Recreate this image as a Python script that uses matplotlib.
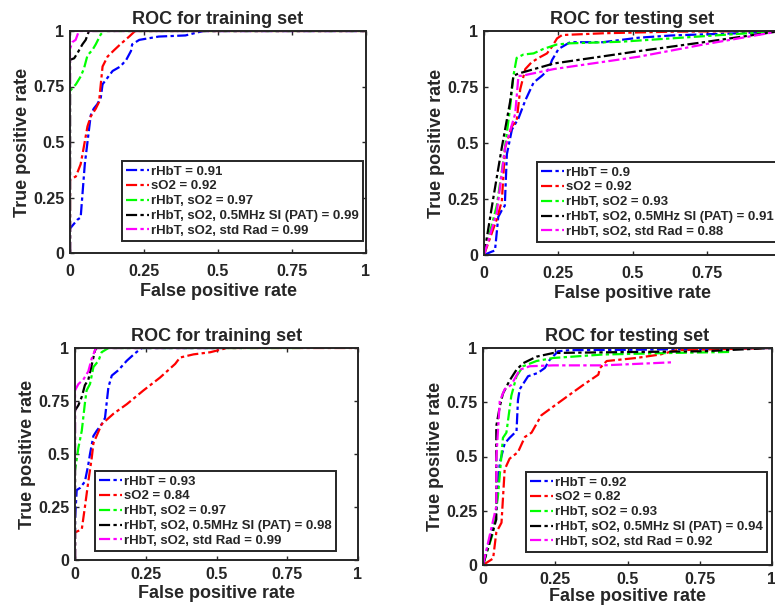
import matplotlib
matplotlib.use("Agg")
import matplotlib.pyplot as plt

plt.rcParams['font.family'] = ['Liberation Sans', 'DejaVu Sans']
plt.rcParams['font.weight'] = 'bold'

W, H = 775, 611
labels_ = ["rHbT", "sO2", "rHbT, sO2", "rHbT, sO2, 0.5MHz SI (PAT)", "rHbT, sO2, std Rad"]
colors = ["#0000ff", "#ff0000", "#00ff00", "#000000", "#ff00ff"]

titles = ["ROC for training set", "ROC for testing set", "ROC for training set", "ROC for testing set"]
auc = [[0.91, 0.92, 0.97, 0.99, 0.99],
       [0.9, 0.92, 0.93, 0.91, 0.88],
       [0.93, 0.84, 0.97, 0.98, 0.99],
       [0.92, 0.82, 0.93, 0.94, 0.92]]
ticks = [0, 0.25, 0.5, 0.75, 1]
tick_labels = ["0", "0.25", "0.5", "0.75", "1"]

# Panel 1: training (top)
p1_blue_x = [0, 0, 0.025, 0.036, 0.05, 0.07, 0.08, 0.092, 0.104, 0.11, 0.127, 0.144, 0.17, 0.19, 0.206, 0.21, 0.234, 0.30, 0.39, 0.45, 1.0]
p1_blue_y = [0, 0.11, 0.15, 0.16, 0.40, 0.62, 0.65, 0.67, 0.70, 0.76, 0.79, 0.82, 0.84, 0.87, 0.91, 0.94, 0.96, 0.975, 0.98, 1.0, 1.0]
p1_red_x = [0, 0, 0.02, 0.036, 0.047, 0.059, 0.07, 0.087, 0.098, 0.11, 0.127, 0.15, 0.17, 0.2, 0.22, 1.0]
p1_red_y = [0, 0.33, 0.345, 0.40, 0.48, 0.57, 0.615, 0.65, 0.68, 0.84, 0.885, 0.915, 0.94, 0.975, 1.0, 1.0]
p1_green_x = [0, 0, 0.02, 0.036, 0.047, 0.059, 0.076, 0.087, 0.104, 0.115, 1.0]
p1_green_y = [0, 0.73, 0.76, 0.795, 0.83, 0.89, 0.915, 0.94, 0.985, 1.0, 1.0]
p1_black_x = [0, 0, 0.014, 0.025, 0.042, 0.053, 0.064, 1.0]
p1_black_y = [0, 0.87, 0.877, 0.9, 0.94, 0.96, 1.0, 1.0]
p1_mag_x = [0, 0, 0.008, 0.019, 0.03, 1.0]
p1_mag_y = [0, 0.92, 0.95, 0.96, 1.0, 1.0]

# Panel 2: testing (top)
p2_blue_x = [0, 0.026, 0.037, 0.048, 0.06, 0.07, 0.077, 0.094, 0.116, 0.139, 0.167, 0.195, 0.218, 0.229, 0.251, 0.29, 0.40, 0.52, 0.63, 0.855, 1.0]
p2_blue_y = [0, 0.015, 0.02, 0.17, 0.2, 0.22, 0.45, 0.56, 0.61, 0.69, 0.77, 0.80, 0.83, 0.87, 0.92, 0.95, 0.95, 0.97, 0.98, 0.99, 1.0]
p2_red_x = [0, 0.043, 0.06, 0.071, 0.094, 0.11, 0.122, 0.139, 0.16, 0.184, 0.212, 0.229, 0.246, 0.263, 0.404, 0.63, 1.0]
p2_red_y = [0, 0.16, 0.24, 0.48, 0.575, 0.60, 0.74, 0.83, 0.86, 0.88, 0.90, 0.93, 0.967, 0.982, 0.99, 0.997, 1.0]
p2_green_x = [0, 0.043, 0.065, 0.088, 0.099, 0.11, 0.133, 0.167, 0.20, 0.246, 0.29, 0.46, 0.63, 1.0]
p2_green_y = [0, 0.22, 0.42, 0.66, 0.80, 0.88, 0.895, 0.90, 0.92, 0.94, 0.945, 0.952, 0.967, 1.0]
p2_black_x = [0, 0.032, 0.06, 0.088, 0.099, 0.116, 0.235, 0.52, 0.74, 1.0]
p2_black_y = [0, 0.26, 0.48, 0.685, 0.80, 0.81, 0.855, 0.91, 0.95, 1.0]
p2_mag_x = [0, 0.043, 0.071, 0.105, 0.116, 0.127, 0.235, 0.52, 0.74, 1.0]
p2_mag_y = [0, 0.19, 0.48, 0.63, 0.80, 0.80, 0.83, 0.885, 0.94, 1.0]

# Panel 3: training (bottom)
p3_blue_x = [0, 0, 0.006, 0.018, 0.035, 0.047, 0.053, 0.065, 0.077, 0.094, 0.106, 0.118, 0.13, 0.153, 0.183, 0.212, 0.236, 0.50]
p3_blue_y = [0, 0.185, 0.33, 0.34, 0.37, 0.45, 0.50, 0.585, 0.61, 0.64, 0.67, 0.815, 0.87, 0.895, 0.94, 0.975, 1.0, 1.0]
p3_red_x = [0, 0, 0.024, 0.035, 0.047, 0.059, 0.065, 0.094, 0.136, 0.183, 0.242, 0.30, 0.354, 0.371, 0.419, 0.478, 0.537, 1.0]
p3_red_y = [0, 0.13, 0.145, 0.25, 0.37, 0.48, 0.55, 0.64, 0.69, 0.735, 0.80, 0.86, 0.925, 0.955, 0.97, 0.98, 1.0, 1.0]
p3_green_x = [0, 0, 0.012, 0.024, 0.035, 0.041, 0.053, 0.065, 0.083, 0.094, 0.118, 0.81]
p3_green_y = [0, 0.42, 0.53, 0.61, 0.74, 0.80, 0.83, 0.91, 0.94, 0.98, 1.0, 1.0]
p3_black_x = [0, 0, 0.012, 0.024, 0.035, 0.047, 0.059, 0.071, 0.077, 0.59]
p3_black_y = [0, 0.705, 0.73, 0.77, 0.825, 0.85, 0.92, 0.99, 1.0, 1.0]
p3_mag_x = [0, 0, 0.012, 0.029, 0.047, 0.059, 0.074, 0.52]
p3_mag_y = [0, 0.80, 0.83, 0.85, 0.89, 0.95, 1.0, 1.0]

# Panel 4: testing (bottom)
p4_blue_x = [0, 0.017, 0.035, 0.046, 0.058, 0.075, 0.092, 0.116, 0.121, 0.127, 0.156, 0.19, 0.214, 0.231, 0.26, 0.30, 0.53, 1.0]
p4_blue_y = [0, 0.087, 0.18, 0.256, 0.47, 0.56, 0.586, 0.617, 0.76, 0.81, 0.87, 0.885, 0.908, 0.946, 0.985, 0.99, 0.992, 1.0]
p4_red_x = [0, 0.035, 0.046, 0.064, 0.075, 0.092, 0.121, 0.145, 0.168, 0.202, 0.243, 0.30, 0.347, 0.399, 0.405, 0.428, 0.53, 0.613, 0.67, 1.0]
p4_red_y = [0, 0.03, 0.15, 0.195, 0.44, 0.49, 0.52, 0.59, 0.61, 0.69, 0.73, 0.785, 0.83, 0.877, 0.908, 0.94, 0.954, 0.97, 0.99, 1.0]
p4_green_x = [0, 0.035, 0.052, 0.069, 0.081, 0.098, 0.116, 0.139, 0.185, 0.243, 0.416, 0.647, 0.861]
p4_green_y = [0, 0.15, 0.32, 0.586, 0.61, 0.78, 0.87, 0.916, 0.94, 0.954, 0.97, 0.977, 0.982]
p4_black_x = [0, 0.046, 0.046, 0.058, 0.069, 0.092, 0.116, 0.139, 0.185, 0.243, 0.416, 0.763, 1.0]
p4_black_y = [0, 0.21, 0.64, 0.73, 0.79, 0.85, 0.90, 0.93, 0.96, 0.977, 0.98, 0.985, 1.0]
p4_mag_x = [0, 0.046, 0.046, 0.058, 0.075, 0.098, 0.127, 0.162, 0.243, 0.416, 0.653]
p4_mag_y = [0, 0.27, 0.49, 0.755, 0.81, 0.83, 0.90, 0.916, 0.92, 0.92, 0.934]

panels = [
    [(p1_blue_x, p1_blue_y), (p1_red_x, p1_red_y), (p1_green_x, p1_green_y), (p1_black_x, p1_black_y), (p1_mag_x, p1_mag_y)],
    [(p2_blue_x, p2_blue_y), (p2_red_x, p2_red_y), (p2_green_x, p2_green_y), (p2_black_x, p2_black_y), (p2_mag_x, p2_mag_y)],
    [(p3_blue_x, p3_blue_y), (p3_red_x, p3_red_y), (p3_green_x, p3_green_y), (p3_black_x, p3_black_y), (p3_mag_x, p3_mag_y)],
    [(p4_blue_x, p4_blue_y), (p4_red_x, p4_red_y), (p4_green_x, p4_green_y), (p4_black_x, p4_black_y), (p4_mag_x, p4_mag_y)],
]

# axes boxes in pixels: left, right, top, bottom
boxes = [(70, 366, 31, 253), (484, 781, 31, 255), (75, 358, 348, 560), (483, 772, 348, 565)]
# legend lower-right corner in pixels
leg_corner = [(363, 241), (778, 242), (336, 551), (767, 552)]
xtick_pad = [8, 8, 5, 5]
xlabel_pad = [3, 3, 2, 0.5]

fig = plt.figure(figsize=(W / 100, H / 100), dpi=100)
ls = (0, (5, 1.5, 1.5, 1.5))
txt = "#262626"

for i in range(4):
    l, r, t, b = boxes[i]
    ax = fig.add_axes([l / W, 1 - b / H, (r - l) / W, (b - t) / H])
    for j, (xs, ys) in enumerate(panels[i]):
        ax.plot(xs, ys, color=colors[j], lw=1.6, linestyle=ls,
                label=f"{labels_[j]} = {auc[i][j]:g}")
    ax.set_xlim(0, 1)
    ax.set_ylim(0, 1)
    ax.set_xticks(ticks)
    xl = list(tick_labels)
    if i == 1:
        xl[-1] = ""  # cut off by the figure edge in the reference
    ax.set_xticklabels(xl)
    ax.set_yticks(ticks)
    ax.set_yticklabels(tick_labels)
    ax.tick_params(direction='in', length=3, width=1, top=True, right=True,
                   labelsize=11.5, colors=txt, labelcolor=txt)
    ax.tick_params(axis='x', pad=xtick_pad[i])
    ax.tick_params(axis='y', pad=4)
    for lab in ax.get_xticklabels() + ax.get_yticklabels():
        lab.set_fontweight('bold')
    for s in ax.spines.values():
        s.set_linewidth(1.4)
        s.set_color(txt)
    ax.set_title(titles[i], fontsize=13, fontweight='bold', pad=5, color=txt)
    ax.set_xlabel("False positive rate", fontsize=13, fontweight='bold',
                  labelpad=xlabel_pad[i], color=txt)
    ax.set_ylabel("True positive rate", fontsize=13, fontweight='bold', labelpad=1.5, color=txt)
    lx, ly = leg_corner[i]
    leg = ax.legend(loc='lower right', bbox_to_anchor=(lx / W, 1 - ly / H),
                    bbox_transform=fig.transFigure, borderaxespad=0,
                    fancybox=False, framealpha=1, edgecolor=txt,
                    prop={'weight': 'bold', 'size': 9.5}, handlelength=1.75,
                    handletextpad=0.15, labelspacing=0.2, borderpad=0.3)
    leg.get_frame().set_linewidth(1.4)
    for tx in leg.get_texts():
        tx.set_color(txt)

fig.savefig("out.png", dpi=100)
